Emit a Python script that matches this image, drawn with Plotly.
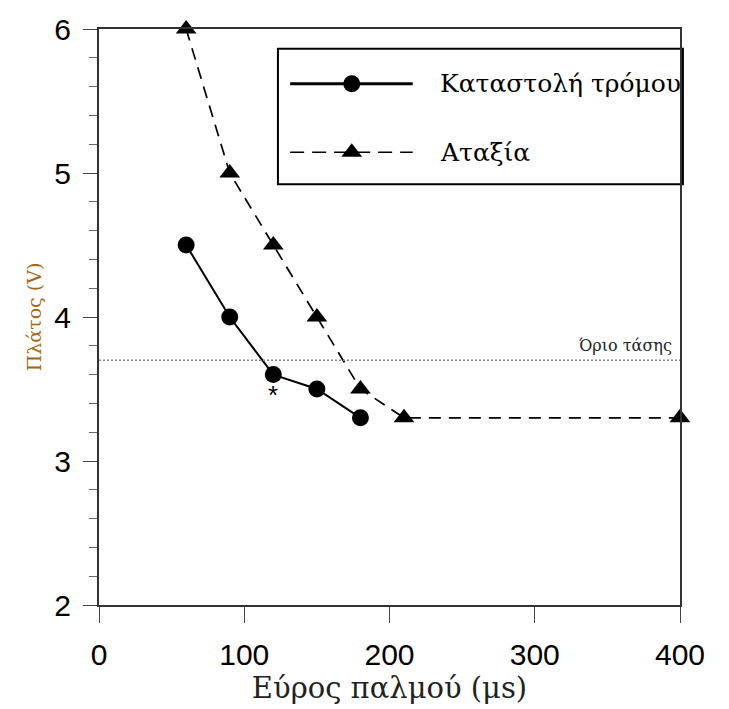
import plotly.graph_objects as go

# Data
tremor_x = [60, 90, 120, 150, 180]
tremor_y = [4.5, 4.0, 3.6, 3.5, 3.3]
ataxia_x = [60, 90, 120, 150, 180, 210, 400]
ataxia_y = [6.0, 5.0, 4.5, 4.0, 3.5, 3.3, 3.3]
threshold = 3.7
star_point = (120, 3.46)
labels = ["Καταστολή τρόμου", "Αταξία"]

serif = "DejaVu Serif, Liberation Serif, serif"
sans = "Liberation Sans, Arial, sans-serif"

fig = go.Figure()

# Manual legend box (below traces)
fig.add_shape(type="rect", xref="paper", yref="paper",
              x0=0.308, x1=1.005, y0=0.7306, y1=0.9655,
              line=dict(color="black", width=2), fillcolor="white", layer="below")

fig.add_trace(go.Scatter(
    x=tremor_x, y=tremor_y, mode="lines+markers", name=labels[0],
    line=dict(color="black", width=2),
    marker=dict(symbol="circle", size=17, color="black"),
    showlegend=False, cliponaxis=False))
fig.add_trace(go.Scatter(
    x=ataxia_x, y=ataxia_y, mode="lines+markers", name=labels[1],
    line=dict(color="black", width=1.7, dash="12px,8px"),
    marker=dict(symbol="triangle-up", size=18, color="black"),
    showlegend=False, cliponaxis=False))

# threshold line
fig.add_trace(go.Scatter(
    x=[0, 400], y=[threshold, threshold], mode="lines",
    line=dict(color="#888888", width=1.5, dash="2px,2px"),
    showlegend=False, hoverinfo="skip"))

fig.add_annotation(x=400, y=threshold, xref="x", yref="y",
                   text="Όριο τάσης", showarrow=False,
                   xanchor="right", yanchor="bottom", xshift=-6, yshift=3,
                   font=dict(family=serif, size=16, color="#222222"))

fig.add_annotation(x=star_point[0], y=star_point[1], xref="x", yref="y",
                   text="*", showarrow=False,
                   font=dict(family=sans, size=26, color="black"))

# Legend samples on overlay axes
fig.add_trace(go.Scatter(
    x=[0.329, 0.435, 0.540], y=[0.905, 0.905, 0.905], xaxis="x2", yaxis="y2",
    mode="lines", line=dict(color="black", width=3),
    showlegend=False, hoverinfo="skip"))
fig.add_trace(go.Scatter(
    x=[0.435], y=[0.905], xaxis="x2", yaxis="y2",
    mode="markers", marker=dict(symbol="circle", size=17, color="black"),
    showlegend=False, hoverinfo="skip"))
fig.add_trace(go.Scatter(
    x=[0.329, 0.540], y=[0.786, 0.786], xaxis="x2", yaxis="y2",
    mode="lines", line=dict(color="black", width=1.7, dash="14px,8px"),
    showlegend=False, hoverinfo="skip"))
fig.add_trace(go.Scatter(
    x=[0.435], y=[0.786], xaxis="x2", yaxis="y2",
    mode="markers", marker=dict(symbol="triangle-up", size=18, color="black"),
    showlegend=False, hoverinfo="skip"))

fig.add_annotation(x=0.583, y=0.905, xref="paper", yref="paper", text=labels[0],
                   showarrow=False, xanchor="left", yanchor="middle",
                   font=dict(family=serif, size=25, color="black"))
fig.add_annotation(x=0.583, y=0.786, xref="paper", yref="paper", text=labels[1],
                   showarrow=False, xanchor="left", yanchor="middle",
                   font=dict(family=serif, size=25, color="black"))

fig.update_layout(
    width=729, height=709,
    margin=dict(l=99, r=49, t=27, b=103),
    paper_bgcolor="white", plot_bgcolor="white",
    xaxis=dict(range=[0, 400], tick0=0, dtick=100, ticks="outside", ticklen=16,
               tickcolor="#444", tickwidth=1, ticklabelstandoff=6,
               showline=True, linecolor="#333", linewidth=2, mirror=True,
               showgrid=False, zeroline=False,
               tickfont=dict(family=sans, size=30, color="black"),
               title=dict(text="Εύρος παλμού (μs)", standoff=6,
                          font=dict(family=serif, size=29, color="#222"))),
    yaxis=dict(range=[2, 6], tick0=2, dtick=1, ticks="outside", ticklen=14,
               tickcolor="#444", tickwidth=1, ticklabelstandoff=6,
               minor=dict(tick0=2, dtick=0.2, ticks="outside", ticklen=8,
                          tickcolor="#666", tickwidth=1),
               showline=True, linecolor="#333", linewidth=2, mirror=True,
               showgrid=False, zeroline=False,
               tickfont=dict(family=sans, size=30, color="black"),
               title=dict(text="Πλάτος (V)", standoff=8,
                          font=dict(family=serif, size=19, color="#a8650f"))),
    xaxis2=dict(range=[0, 1], overlaying="x", visible=False, fixedrange=True),
    yaxis2=dict(range=[0, 1], overlaying="y", visible=False, fixedrange=True),
)

fig.write_html("out.html")
